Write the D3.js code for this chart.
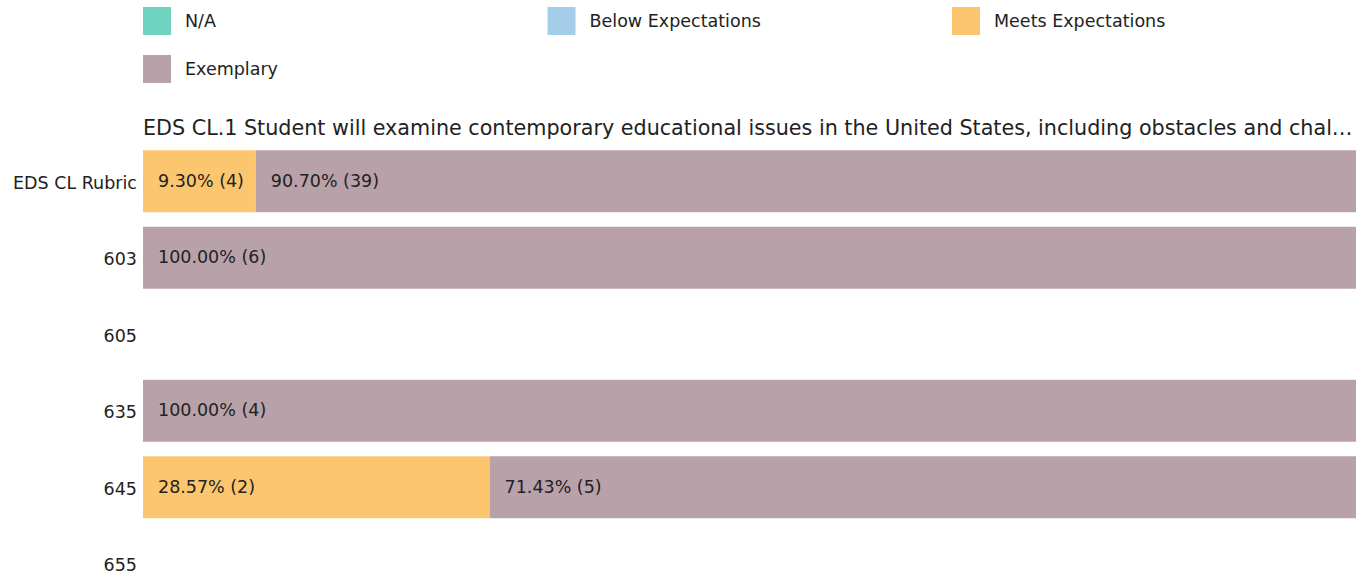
<!DOCTYPE html>
<html>
<head>
<meta charset="utf-8">
<script src="https://cdn.jsdelivr.net/npm/d3@7"></script>
<style>
  body { margin: 0; background: #fff; }
  text { font-family: "DejaVu Sans", sans-serif; fill: #222; }
</style>
</head>
<body>
<svg id="chart"></svg>
<script>
// categories and series (counts per rating level)
var rows = ["EDS CL Rubric", "603", "605", "635", "645", "655"];
var levels = ["N/A", "Below Expectations", "Meets Expectations", "Exemplary"];
var colors = ["#70d3bf", "#a3cde8", "#fcc66f", "#b9a1aa"];
var naCounts = [0, 0, 0, 0, 0, 0];
var belowCounts = [0, 0, 0, 0, 0, 0];
var meetsCounts = [4, 0, 0, 0, 2, 0];
var exemplaryCounts = [39, 6, 0, 4, 5, 0];
// title as shown (already cut off in the source chart)
var title = "EDS CL.1 Student will examine contemporary educational issues in the United States, including obstacles and chal…";

var W = 1359, H = 574;
var margin = {top: 150, right: 3, bottom: 0, left: 143};
var fs = "17.5px";

var svg = d3.select("#chart").attr("width", W).attr("height", H);

// legend
var legCols = 3, legColW = 404.5, legRowH = 48;
var leg = svg.append("g").attr("transform", "translate(" + margin.left + ",7)");
var li = leg.selectAll("g").data(levels).enter().append("g")
  .attr("transform", function(d, i) {
    return "translate(" + (i % legCols) * legColW + "," + Math.floor(i / legCols) * legRowH + ")";
  });
li.append("rect").attr("width", 28).attr("height", 28)
  .attr("fill", function(d, i) { return colors[i]; });
li.append("text").attr("x", 42).attr("y", 14).attr("dy", "0.35em")
  .style("font-size", fs).text(function(d) { return d; });

// build table
var series = [naCounts, belowCounts, meetsCounts, exemplaryCounts];
var table = rows.map(function(r, i) {
  var o = {row: r};
  var tot = 0;
  levels.forEach(function(l, j) { o[l] = series[j][i]; tot += series[j][i]; });
  o.total = tot;
  return o;
});

var x = d3.scaleLinear().domain([0, 1]).range([margin.left, W - margin.right]);
var y = d3.scaleBand().domain(rows).range([margin.top - 7, margin.top - 7 + 76.5 * rows.length]).paddingInner(0.19).paddingOuter(0.095);

// title
svg.append("text").attr("x", margin.left).attr("y", 135)
  .style("font-size", "20.7px").text(title);

var stack = d3.stack().keys(levels).value(function(d, k) {
  return d.total ? d[k] / d.total : 0;
});
var stacked = stack(table);

var layers = svg.selectAll("g.layer").data(stacked).enter().append("g")
  .attr("class", "layer")
  .attr("fill", function(d, i) { return colors[i]; });

layers.selectAll("rect")
  .data(function(d) { return d.filter(function(s) { return s[1] - s[0] > 0; }); })
  .enter().append("rect")
  .attr("x", function(d) { return x(d[0]); })
  .attr("y", function(d) { return y(d.data.row); })
  .attr("width", function(d) { return x(d[1]) - x(d[0]); })
  .attr("height", y.bandwidth());

layers.each(function(layer) {
  var key = layer.key;
  d3.select(this).selectAll("text")
    .data(layer.filter(function(s) { return s[1] - s[0] > 0; }))
    .enter().append("text")
    .attr("x", function(d) { return x(d[0]) + 15; })
    .attr("y", function(d) { return y(d.data.row) + y.bandwidth() / 2; })
    .attr("dy", "0.3em")
    .style("font-size", fs)
    .text(function(d) {
      return ((d[1] - d[0]) * 100).toFixed(2) + "% (" + d.data[key] + ")";
    });
});

// y axis labels
var yAxis = d3.axisLeft(y).tickSize(0).tickPadding(6);
var ya = svg.append("g").attr("transform", "translate(" + margin.left + ",0)").call(yAxis);
ya.select(".domain").remove();
ya.selectAll("text").attr("dy", "0.42em").style("font-size", fs).style("font-family", "DejaVu Sans, sans-serif").attr("fill", "#222");
</script>
</body>
</html>
